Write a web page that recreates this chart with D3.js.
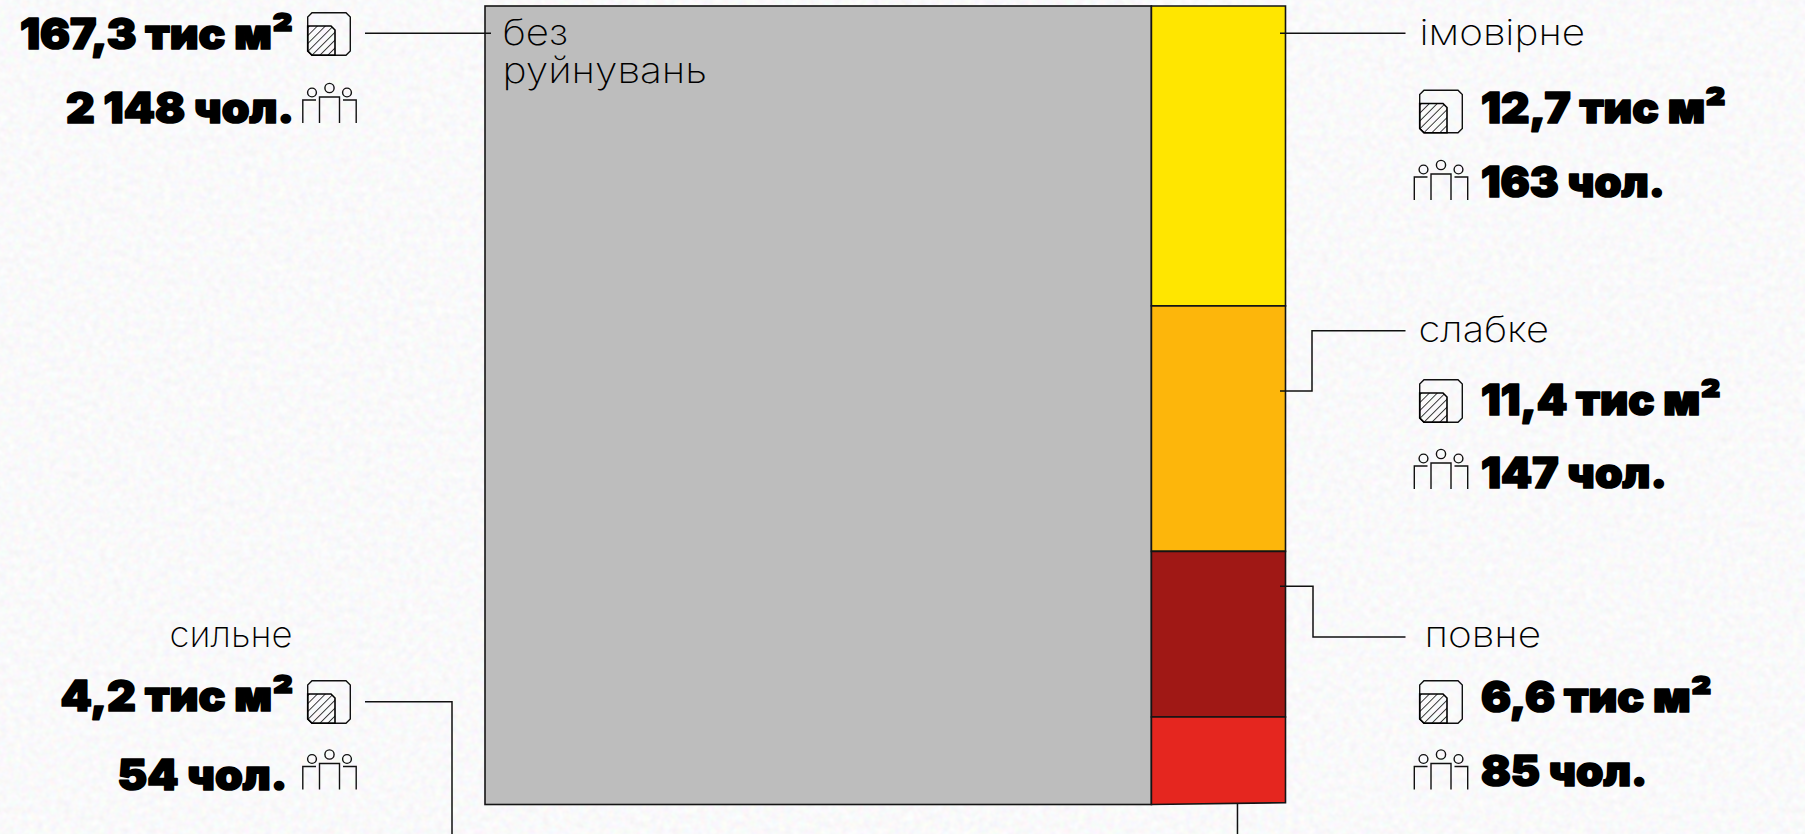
<!DOCTYPE html>
<html lang="uk">
<head>
<meta charset="utf-8">
<script src="https://cdn.jsdelivr.net/npm/d3@7/dist/d3.min.js"></script>
<style>
html,body{margin:0;padding:0;background:#f3f3f4;overflow:hidden}
svg{display:block}
.heavy{font-family:Inter,"Noto Sans",sans-serif;font-weight:900;font-size:42px;fill:#000;stroke:#000;stroke-width:1.7px;stroke-linejoin:round}
.light{font-family:Inter,"Noto Sans",sans-serif;font-weight:200;font-size:35.5px;fill:#000}
</style>
</head>
<body>
<svg id="chart" width="1805" height="834" viewBox="0 0 1805 834"></svg>
<script>
// ---- data ----
const categories = ["без руйнувань", "імовірне", "слабке", "повне", "сильне"];
const areaThousandM2 = [167.3, 12.7, 11.4, 6.6, 4.2];
const people = [2148, 163, 147, 85, 54];
// blocks as drawn: share of total width (%), share of the column height (%)
const mainWidthShare = 83.25;
const columnCategories = ["імовірне", "слабке", "повне", "сильне"];
const columnHeightShare = [37.55, 30.75, 20.75, 10.95];
const redBottomRightShare = 99.77;
const colors = ["#bdbdbd", "#ffe600", "#fdb60b", "#a01815", "#e5261f"];

// ---- page layout (annotation positions) ----
const W = 1805, H = 834;
const layout = {
  "без руйнувань": {
    leader: [[365,33.3],[491,33.3]],
    area:{x0:20,x1:293,y:49}, areaIcon:[307,12], ppl:{x0:66,x1:294,y:122.7}, pplIcon:[302,83]
  },
  "імовірне": {
    label:{x0:1419.5,x1:1585,y:44.7}, leader: [[1280,33.3],[1405.5,33.3]],
    area:{x0:1481,x1:1726,y:122.7}, areaIcon:[1419,89.5], ppl:{x0:1481,x1:1665,y:196.7}, pplIcon:[1413.5,160]
  },
  "слабке": {
    label:{x0:1418.5,x1:1549,y:341.7}, leader: [[1280,391],[1312,391],[1312,330.7],[1405.5,330.7]],
    area:{x0:1481,x1:1721,y:415}, areaIcon:[1419,379], ppl:{x0:1481,x1:1667,y:488}, pplIcon:[1413.5,449]
  },
  "повне": {
    label:{x0:1424.5,x1:1541,y:647}, leader: [[1280,586.3],[1313,586.3],[1313,637],[1405.5,637]],
    area:{x0:1481,x1:1712,y:712}, areaIcon:[1419,680], ppl:{x0:1481,x1:1647.5,y:786}, pplIcon:[1413.5,749.5]
  },
  "сильне": {
    label:{x0:169.5,x1:292.5,y:647}, leader: [[365,701.7],[452,701.7],[452,834]],
    area:{x0:60.5,x1:293.5,y:711}, areaIcon:[307,680], ppl:{x0:117.5,x1:287.5,y:790}, pplIcon:[302,749.5]
  }
};

// ---- scales ----
const x = d3.scaleLinear().domain([0,100]).range([485,1285.5]);
const y = d3.scaleLinear().domain([0,100]).range([6,804.5]);
const loc = d3.formatLocale({decimal:",",thousands:"\u00a0",grouping:[3],currency:["",""]});
const fmtArea = v => loc.format(".1f")(v) + " тис м²";
const fmtPeople = v => loc.format(",d")(v).replace(/\u00a0/g," ") + " чол.";

const svg = d3.select("#chart");
const defs = svg.append("defs");

// paper texture
const f = defs.append("filter").attr("id","paper").attr("x",0).attr("y",0).attr("width","100%").attr("height","100%");
f.append("feTurbulence").attr("type","fractalNoise").attr("baseFrequency",0.14).attr("numOctaves",2).attr("seed",4);
f.append("feColorMatrix").attr("type","matrix")
 .attr("values","0.16 0 0 0 0.87  0 0.16 0 0 0.87  0 0 0.16 0 0.878  0 0 0 0 1");
svg.append("rect").attr("width",W).attr("height",H).attr("filter","url(#paper)");

// hatch
const hatch = defs.append("pattern").attr("id","hatch").attr("patternUnits","userSpaceOnUse")
  .attr("width",5.6).attr("height",5.6).attr("patternTransform","rotate(45)");
hatch.append("line").attr("x1",0).attr("x2",0).attr("y1",0).attr("y2",5.6).attr("stroke","#000").attr("stroke-width",1.5);

// ---- blocks ----
const STROKE = "#141414";
svg.append("rect")
  .attr("x",x(0)).attr("y",y(0)).attr("width",x(mainWidthShare)-x(0)).attr("height",y(100)-y(0))
  .attr("fill",colors[0]).attr("stroke",STROKE).attr("stroke-width",1.6);

const stack = d3.cumsum(columnHeightShare);
const segs = columnCategories.map((c,i)=>({c,i,top:i?stack[i-1]:0,bottom:stack[i]}));
const poly = d3.line().x(d=>x(d[0])).y(d=>y(d[1]));
svg.append("g").selectAll("path").data(segs).join("path")
  .attr("d",d=>{
    const last = d.i===segs.length-1;
    return poly([[mainWidthShare,d.top],[100,d.top],[100,last?redBottomRightShare:d.bottom],[mainWidthShare,d.bottom]])+"Z";
  })
  .attr("fill",d=>colors[d.i+1]).attr("stroke",STROKE).attr("stroke-width",1.6);

// ---- leaders ----
const lead = d3.line();
const g = svg.append("g");
categories.forEach(c=>{
  g.append("path").attr("d",lead(layout[c].leader)).attr("fill","none").attr("stroke","#111").attr("stroke-width",1.5);
});
// leader leaving the red block downward
g.append("path").attr("d",lead([[x(94),y(100)-1],[x(94),H]])).attr("fill","none").attr("stroke","#111").attr("stroke-width",1.5);

// ---- text ----
function fit(sel,b,cls,txt){
  sel.append("text").attr("class",cls).attr("x",b.x0).attr("y",b.y)
    .attr("textLength",b.x1-b.x0).attr("lengthAdjust","spacingAndGlyphs").text(txt);
}
// ---- icons ----
function areaIcon(sel,p){
  const i = sel.append("g").attr("transform",`translate(${p[0]},${p[1]})`);
  i.append("path").attr("d","M0.7,14H24L28,18V43.3H5L0.7,39Z").attr("fill","url(#hatch)").attr("stroke","none");
  i.append("path").attr("d","M5,0.7H39L43.3,5V39L39,43.3H5L0.7,39V5Z").attr("fill","none").attr("stroke","#111").attr("stroke-width",1.4);
  i.append("path").attr("d","M0.7,14H24L28,18V43.3H5L0.7,39Z").attr("fill","none").attr("stroke","#000").attr("stroke-width",1.6);
}
function pplIcon(sel,p){
  const i = sel.append("g").attr("transform",`translate(${p[0]},${p[1]})`).attr("fill","none").attr("stroke","#111").attr("stroke-width",1.4);
  [[10,9.5],[27.5,5],[45,9.5]].forEach(c=>i.append("circle").attr("cx",c[0]).attr("cy",c[1]).attr("r",c[0]===27.5?4.6:4.4));
  i.append("path").attr("d","M0.8,40V17H14");
  i.append("path").attr("d","M17.5,40V14H37.5V40");
  i.append("path").attr("d","M41,17H54.2V40");
}

categories.forEach((c,k)=>{
  const l = layout[c];
  if(l.label) fit(svg,l.label,"light",c);
  fit(svg,l.area,"heavy",fmtArea(areaThousandM2[k]));
  fit(svg,l.ppl,"heavy",fmtPeople(people[k]));
  areaIcon(svg,l.areaIcon);
  pplIcon(svg,l.pplIcon);
});
// the two-line label inside the grey block, kept as one text element
const words = categories[0].split(" ");
const wordBoxes = [{x0:502.5,x1:568,y:45},{x0:502.5,x1:707,y:83.3}];
const twoLine = svg.append("text").attr("class","light");
words.forEach((w,i)=>{
  const b = wordBoxes[i];
  twoLine.append("tspan").attr("x",b.x0).attr("y",b.y)
    .attr("textLength",b.x1-b.x0).attr("lengthAdjust","spacingAndGlyphs").text(w);
});
</script>
</body>
</html>
